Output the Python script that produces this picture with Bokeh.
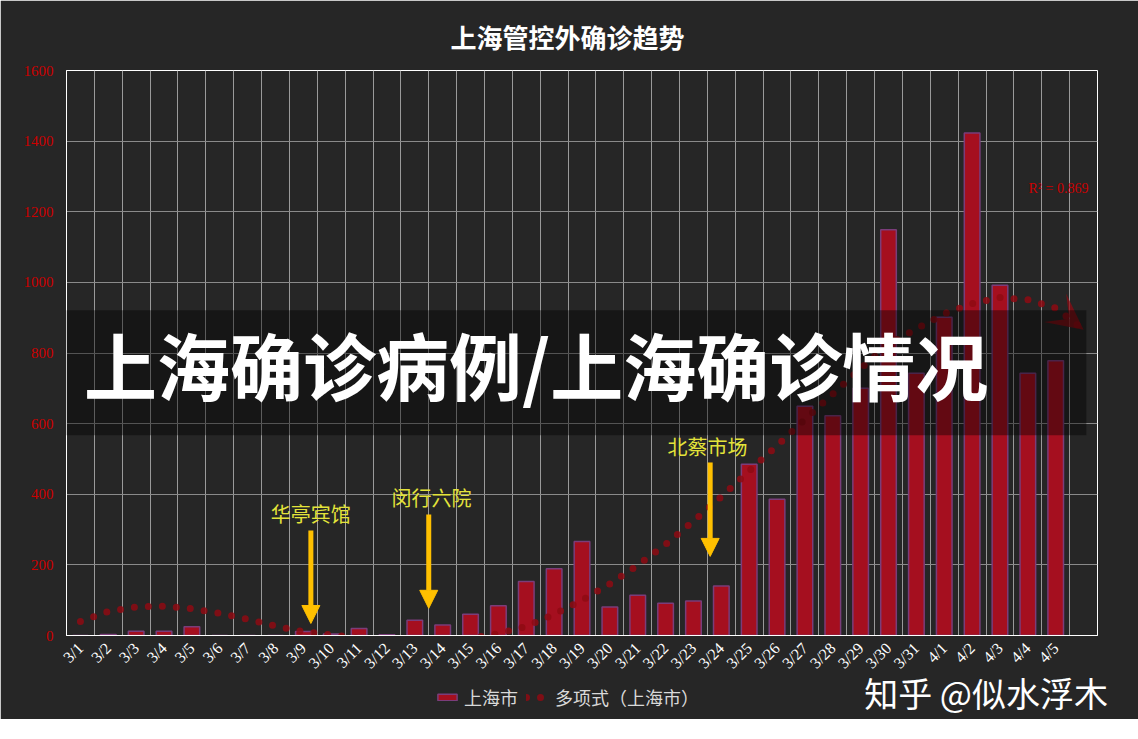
from bokeh.plotting import figure
from bokeh.models import (Range1d, FixedTicker, Label, BoxAnnotation, Arrow, NormalHead,
                          VeeHead, Legend, LegendItem, ColumnDataSource, Title, LinearAxis)
from bokeh.embed import file_html
from bokeh.resources import INLINE
import math

# ---------------- data ----------------
dates = ["3/1", "3/2", "3/3", "3/4", "3/5", "3/6", "3/7", "3/8", "3/9", "3/10",
         "3/11", "3/12", "3/13", "3/14", "3/15", "3/16", "3/17", "3/18", "3/19", "3/20",
         "3/21", "3/22", "3/23", "3/24", "3/25", "3/26", "3/27", "3/28", "3/29", "3/30",
         "3/31", "4/1", "4/2", "4/3", "4/4", "4/5"]
cases = [0, 3, 12, 12, 25, 0, 0, 0, 11, 4,
         20, 2, 43, 30, 60, 84, 153, 189, 266, 81,
         114, 91, 98, 140, 485, 386, 649, 622, 700, 1149,
         743, 901, 1423, 992, 743, 778]
# polynomial trendline (last value = forward forecast)
trend = [40, 68, 81, 83, 76, 63, 46, 27, 11, 2,
         -8, -14, -17, -15, -8, 5, 26, 60, 100, 146,
         199, 258, 324, 393, 466, 538, 612, 684, 756, 825,
         868, 911, 940, 957, 951, 927, 866]
y_ticks = [0, 200, 400, 600, 800, 1000, 1200, 1400, 1600]

annot_text = ["华亭宾馆", "闵行六院", "北蔡市场"]
annot_text_x = [8.27, 12.6, 22.5]
annot_text_y = [346, 391, 536]
annot_arrow_x = [8.27, 12.5, 22.6]
annot_arrow_top = [297, 343, 490]
annot_arrow_tip = [34, 77, 224]

chart_title = "上海管控外确诊趋势"
banner_text = "上海确诊病例/上海确诊情况"
r2_text = "R² = 0.869"
watermark = "知乎 @似水浮木"
watermark_x = 32.5

BG = "#262626"
CJK = "Noto Sans CJK SC"
SERIF = "Liberation Serif"

x_idx = list(range(len(dates)))
trend_x = list(range(len(trend)))

p = figure(frame_width=1031, frame_height=565, output_backend="svg", toolbar_location=None,
           x_range=Range1d(-0.5, len(dates) + 0.5), y_range=Range1d(0, 1600),
           min_border_left=66, min_border_right=41, min_border_top=67, min_border_bottom=0)
p.background_fill_color = BG
p.border_fill_color = BG
p.outline_line_color = "white"
p.outline_line_width = 1

# axes
p.xaxis.ticker = FixedTicker(ticks=x_idx)
p.xaxis.major_label_overrides = {i: d for i, d in enumerate(dates)}
p.xaxis.major_label_orientation = math.pi / 4
p.xaxis.major_label_text_color = "white"
p.xaxis.major_label_text_font = SERIF
p.xaxis.major_label_text_font_size = "16px"
p.xaxis.major_label_standoff = 10
p.yaxis.ticker = FixedTicker(ticks=y_ticks)
p.yaxis.major_label_text_color = "#cc0000"
p.yaxis.major_label_text_font = SERIF
p.yaxis.major_label_text_font_size = "15px"
p.yaxis.major_label_standoff = 13
for ax in (p.xaxis, p.yaxis):
    ax.axis_line_color = "white"
    ax.major_tick_line_color = None
    ax.minor_tick_line_color = None
    ax.major_tick_out = 0
    ax.minor_tick_out = 0

p.ygrid.ticker = FixedTicker(ticks=y_ticks)
p.ygrid.grid_line_color = "#8a8a8a"
p.xgrid.ticker = FixedTicker(ticks=[i + 0.5 for i in x_idx])
p.xgrid.grid_line_color = "#9a9a9a"

src = ColumnDataSource(dict(x=x_idx, cases=cases))
bars = p.vbar(x="x", top="cases", source=src, width=0.56, fill_color="#a50f1f",
              line_color="#7a3d7a", line_width=1.5)

tsrc = ColumnDataSource(dict(x=trend_x, y=trend))
tline = p.line(x="x", y="y", source=tsrc, line_color="#8e0b13", line_alpha=0.85,
               line_width=7, line_dash="0 14", line_cap="round")
p.add_layout(Arrow(x_start=trend_x[-2], y_start=trend[-2], x_end=trend_x[-1], y_end=trend[-1],
                   line_alpha=0,
                   end=VeeHead(size=36, fill_color="#8e0b13", fill_alpha=0.75, line_alpha=0)))

p.add_layout(Label(x=35.1, y=1267, text=r2_text, text_align="center", text_baseline="middle",
                   text_color="#cc0000", text_font=SERIF, text_font_size="14px"))

for t, tx, ty, ax_, at, ab in zip(annot_text, annot_text_x, annot_text_y,
                                  annot_arrow_x, annot_arrow_top, annot_arrow_tip):
    p.add_layout(Label(x=tx, y=ty, text=t, text_align="center", text_baseline="middle",
                       text_color="#e3e33a", text_font=CJK, text_font_size="20px"))
    p.add_layout(Arrow(x_start=ax_, y_start=at, x_end=ax_, y_end=ab, line_color="#ffc000",
                       line_width=5,
                       end=NormalHead(size=18, fill_color="#ffc000", line_color="#ffc000")))

# watermark: a second, bare x axis below the first one, with a single labelled tick
wm_axis = LinearAxis(ticker=FixedTicker(ticks=[watermark_x]),
                     major_label_overrides={watermark_x: watermark},
                     axis_line_color=None, major_tick_line_color=None, minor_tick_line_color=None,
                     major_tick_out=0, major_tick_in=0, minor_tick_out=0, minor_tick_in=0,
                     major_label_standoff=-13, major_label_text_color="white",
                     major_label_text_font=CJK, major_label_text_font_size="34px")
p.add_layout(wm_axis, "below")

# legend: in the right side panel, shifted to sit under the x axis
legend = Legend(items=[LegendItem(label="上海市", renderers=[bars]),
                       LegendItem(label="多项式（上海市）", renderers=[tline])],
                orientation="horizontal", location=(-666, -79),
                label_text_color="#d9d9d9", label_text_font=CJK, label_text_font_size="18px",
                background_fill_alpha=0, border_line_alpha=0,
                glyph_width=24, glyph_height=8, spacing=8, margin=0, padding=4)
p.add_layout(legend, "right")

# title
p.add_layout(Title(text=chart_title, align="left", offset=384, standoff=31,
                   text_color="white", text_font=CJK, text_font_style="bold",
                   text_font_size="26px"), "above")

# overlay banner
p.add_layout(BoxAnnotation(left=-1.0, right=36.1, bottom=567, top=921, fill_color="black",
                           fill_alpha=0.4, line_color=None))
p.add_layout(Label(x=16.35, y=772, text=banner_text, text_align="center", text_baseline="middle",
                   text_color="white", text_font=CJK, text_font_style="bold",
                   text_font_size="73px"))

html = file_html(p, INLINE)
html = html.replace("<body>", '<body style="background-color:#262626;">', 1)
open("out.html", "w").write(html)
